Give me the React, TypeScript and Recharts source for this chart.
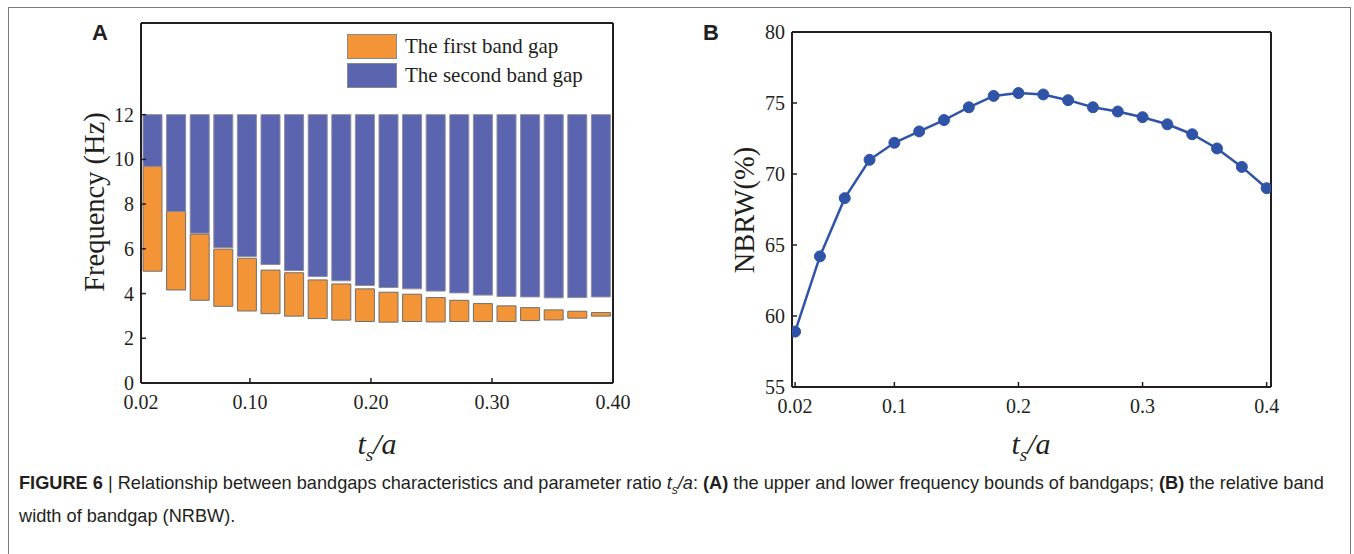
import React from 'react'
import { BarChart, Bar, LineChart, Line, XAxis, YAxis, Legend, ReferenceLine } from 'recharts'

// t_s/a values for the 20 bars / points
const ratioLabels = ['0.02', '0.04', '0.06', '0.08', '0.10', '0.12', '0.14', '0.16', '0.18', '0.20',
  '0.22', '0.24', '0.26', '0.28', '0.30', '0.32', '0.34', '0.36', '0.38', '0.40']
const ratios = [0.02, 0.04, 0.06, 0.08, 0.1, 0.12, 0.14, 0.16, 0.18, 0.2,
  0.22, 0.24, 0.26, 0.28, 0.3, 0.32, 0.34, 0.36, 0.38, 0.4]

// panel A: band gap bounds (Hz)
const firstLower = [5.0, 4.16, 3.7, 3.43, 3.22, 3.1, 2.99, 2.88, 2.81, 2.75, 2.72, 2.75, 2.73, 2.75, 2.75, 2.75, 2.79, 2.82, 2.9, 2.99]
const firstUpper = [9.69, 7.67, 6.66, 5.99, 5.58, 5.05, 4.93, 4.61, 4.43, 4.21, 4.06, 3.97, 3.82, 3.7, 3.55, 3.45, 3.37, 3.27, 3.21, 3.15]
const secondLower = [9.69, 7.67, 6.7, 6.06, 5.66, 5.3, 5.03, 4.76, 4.57, 4.36, 4.27, 4.21, 4.11, 4.03, 3.93, 3.87, 3.85, 3.81, 3.82, 3.85]
const secondUpper = [12, 12, 12, 12, 12, 12, 12, 12, 12, 12, 12, 12, 12, 12, 12, 12, 12, 12, 12, 12]

// panel B: NBRW (%)
const nbrw = [58.9, 64.2, 68.3, 71.0, 72.2, 73.0, 73.8, 74.7, 75.5, 75.7, 75.6, 75.2, 74.7, 74.4, 74.0, 73.5, 72.8, 71.8, 70.5, 69.0]

// ticks
const freqTicks = [0, 2, 4, 6, 8, 10, 12]
const tickPosA = [0.01, 0.1, 0.2, 0.3, 0.4]
const tickLabelsA = ['0.02', '0.10', '0.20', '0.30', '0.40']
const nbrwTicks = [55, 60, 65, 70, 75, 80]
const ratioTicksB = [0.02, 0.1, 0.2, 0.3, 0.4]
const tickLabelsB = ['0.02', '0.1', '0.2', '0.3', '0.4']

const ORANGE = '#F39536'
const BLUE = '#5B64AE'
const LINE = '#2F53A6'
const INK = '#231F20'
const SERIF = '"Liberation Serif", "Times New Roman", serif'
const SANS = '"Liberation Sans", Arial, sans-serif'

const legendItems = [
  { color: ORANGE, label: 'The first band gap' },
  { color: BLUE, label: 'The second band gap' },
]

const barRows = ratioLabels.map((r, i) => ({
  ratio: r,
  pos: ratios[i],
  base: firstLower[i],
  first: firstUpper[i] - firstLower[i],
  gap: secondLower[i] - firstUpper[i],
  second: secondUpper[i] - secondLower[i],
}))

const lineRows = ratios.map((r, i) => ({ ratio: r, nbrw: nbrw[i] }))

const tickFont = { fill: INK, fontSize: 20, fontFamily: SERIF }
const axisLine = { stroke: INK, strokeWidth: 2 }
const tickLine = { stroke: INK, strokeWidth: 1.5 }

function BandLegend() {
  return (
    <div style={{ fontFamily: SERIF, color: INK, fontSize: 21 }}>
      {legendItems.map(({ color, label }) => (
        <div key={label} style={{ display: 'flex', alignItems: 'center', height: 29 }}>
          <span style={{ display: 'inline-block', width: 50, height: 25, background: color, border: '1px solid #8a8a8a', boxSizing: 'border-box', marginRight: 8 }} />
          {label}
        </div>
      ))}
    </div>
  )
}

function TsA({ x, y }: { x: number; y: number }) {
  return (
    <div style={{ position: 'absolute', left: x, top: y, transform: 'translate(-50%, -50%)', fontFamily: SERIF, fontStyle: 'italic', fontSize: 30, color: INK, whiteSpace: 'nowrap' }}>
      t<sub style={{ fontSize: 19 }}>s</sub>/a
    </div>
  )
}

function RotLabel({ x, y, text }: { x: number; y: number; text: string }) {
  return (
    <div style={{ position: 'absolute', left: x, top: y, transform: 'translate(-50%, -50%) rotate(-90deg)', fontFamily: SERIF, fontSize: 28.5, color: INK, whiteSpace: 'nowrap' }}>
      {text}
    </div>
  )
}

export default function App() {
  return (
    <div style={{ position: 'absolute', left: 0, top: 0, width: 1354, height: 554, background: '#fff', overflow: 'hidden' }}>
      {/* figure frame */}
      <div style={{ position: 'absolute', left: 8, top: 7, width: 1343, height: 600, border: '1px solid #7a7a7a', boxSizing: 'border-box' }} />

      {/* panel A */}
      <div style={{ position: 'absolute', left: 0, top: 0 }}>
        <BarChart width={645} height={420} data={barRows} margin={{ top: 23, right: 32, bottom: 7, left: 81 }} barSize={19}>
          <XAxis xAxisId="cat" dataKey="ratio" orientation="top" hide height={0} />
          <XAxis
            xAxisId="num"
            dataKey="pos"
            type="number"
            domain={[0.01, 0.4]}
            allowDataOverflow
            ticks={tickPosA}
            tickFormatter={(_v: number, i: number) => tickLabelsA[i]}
            tick={tickFont}
            axisLine={axisLine}
            tickLine={tickLine}
            tickSize={-5}
            tickMargin={17}
            height={30}
            interval={0}
          />
          <YAxis
            domain={[0, 16.1]}
            allowDataOverflow
            ticks={freqTicks}
            tick={tickFont}
            axisLine={axisLine}
            tickLine={tickLine}
            tickSize={-5}
            tickMargin={12}
            width={60}
            interval={0}
          />
          <Bar xAxisId="cat" dataKey="base" stackId="g" fill="transparent" isAnimationActive={false} />
          <Bar xAxisId="cat" dataKey="first" stackId="g" fill={ORANGE} stroke="#6e6e6e" strokeWidth={1} isAnimationActive={false} />
          <Bar xAxisId="cat" dataKey="gap" stackId="g" fill="transparent" isAnimationActive={false} />
          <Bar xAxisId="cat" dataKey="second" stackId="g" fill={BLUE} stroke="#8d8d9c" strokeWidth={1} isAnimationActive={false} />
          {/* frame top and right */}
          <ReferenceLine xAxisId="num" y={16.1} stroke={INK} strokeWidth={2} />
          <ReferenceLine xAxisId="num" x={0.4} stroke={INK} strokeWidth={2} />
          <Legend
            layout="vertical"
            align="center"
            verticalAlign="middle"
            wrapperStyle={{ position: 'absolute', left: 347, top: 32, width: 'auto' }}
            content={() => <BandLegend />}
          />
        </BarChart>
      </div>

      {/* panel B */}
      <div style={{ position: 'absolute', left: 660, top: 0 }}>
        <LineChart width={640} height={424} data={lineRows} margin={{ top: 32, right: 29, bottom: 7, left: 72 }}>
          <XAxis
            dataKey="ratio"
            type="number"
            domain={[0.0175, 0.4035]}
            allowDataOverflow
            ticks={ratioTicksB}
            tickFormatter={(_v: number, i: number) => tickLabelsB[i]}
            tick={tickFont}
            axisLine={axisLine}
            tickLine={tickLine}
            tickSize={-5}
            tickMargin={17}
            height={30}
            interval={0}
          />
          <YAxis
            domain={[55, 80]}
            allowDataOverflow
            ticks={nbrwTicks}
            tick={tickFont}
            axisLine={axisLine}
            tickLine={tickLine}
            tickSize={-5}
            tickMargin={12}
            width={60}
            interval={0}
          />
          <ReferenceLine y={80} stroke={INK} strokeWidth={2} />
          <ReferenceLine x={0.4035} stroke={INK} strokeWidth={2} />
          <Line
            type="linear"
            dataKey="nbrw"
            stroke={LINE}
            strokeWidth={2.5}
            dot={{ fill: LINE, stroke: LINE, r: 5.5, strokeWidth: 1 }}
            isAnimationActive={false}
          />
        </LineChart>
      </div>

      {/* axis titles and panel letters */}
      <RotLabel x={95} y={202} text="Frequency (Hz)" />
      <RotLabel x={745} y={210} text="NBRW(%)" />
      <TsA x={377} y={446} />
      <TsA x={1031} y={446} />
      <div style={{ position: 'absolute', left: 100, top: 33, transform: 'translate(-50%, -50%)', fontFamily: SANS, fontWeight: 700, fontSize: 22, color: INK }}>A</div>
      <div style={{ position: 'absolute', left: 711, top: 33, transform: 'translate(-50%, -50%)', fontFamily: SANS, fontWeight: 700, fontSize: 22, color: INK }}>B</div>

      {/* caption */}
      <div style={{ position: 'absolute', left: 19, top: 470, width: 1330, fontFamily: SANS, fontSize: 18.2, lineHeight: '26px', color: INK, whiteSpace: 'nowrap' }}>
        <b>FIGURE 6</b> | Relationship between bandgaps characteristics and parameter ratio <i>t<sub style={{ fontSize: 12 }}>s</sub>/a</i>: <b>(A)</b> the upper and lower frequency bounds of bandgaps; <b>(B)</b> the relative band
        <br />
        width of bandgap (NRBW).
      </div>
    </div>
  )
}
